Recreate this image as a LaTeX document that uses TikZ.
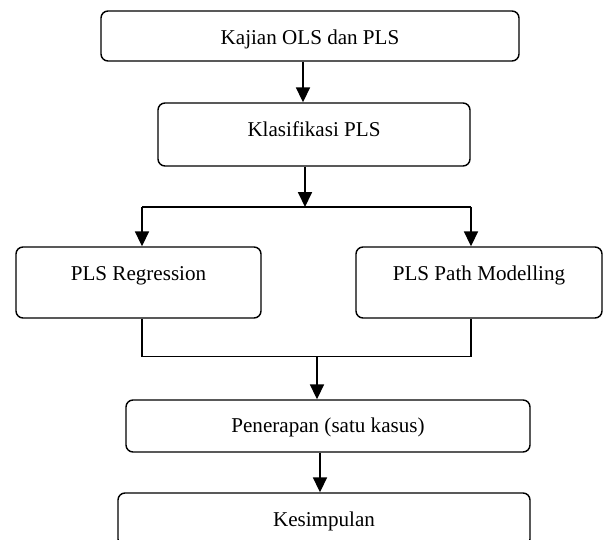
\documentclass[tikz,border=0pt]{standalone}
\usepackage{fontspec}
\setmainfont{Liberation Serif}
\usetikzlibrary{arrows.meta, positioning, calc}
\tikzset{
  >=Triangle,
  flowarrow/.style={-{Triangle[length=8.5pt, width=8pt]}, line width=0.8pt, black},
  flowline/.style={line width=0.8pt, black}
}
\begin{document}
\begin{tikzpicture}[
    stepbox/.style={rectangle, draw=black, line width=0.8pt, rounded corners=4pt, font=\fontsize{12}{14}\selectfont, align=center, inner sep=0pt, text height=0.68cm}
]
    \path[use as bounding box, clip] (0, 0) rectangle (12.06, -10.8);

    % Top boxes
    \node[stepbox, minimum width=8.36cm, text depth=0.32cm] (kajian) at (6.20, -0.72) {Kajian OLS dan PLS};
    \node[stepbox, minimum width=6.24cm, text depth=0.58cm] (klasifikasi) at (6.28, -2.69) {Klasifikasi PLS};

    % Two kinds of PLS
    \node[stepbox, minimum width=4.90cm, text depth=0.74cm] (regression) at (2.77, -5.65) {PLS Regression};
    \node[stepbox, minimum width=4.92cm, text depth=0.74cm] (pathmod) at (9.58, -5.65) {PLS Path Modelling};

    % Application and conclusion
    \node[stepbox, minimum width=8.08cm, text height=0.66cm, text depth=0.38cm] (penerapan) at (6.56, -8.52) {Penerapan (satu kasus)};
    \node[stepbox, minimum width=8.24cm, text height=0.66cm, text depth=0.40cm] (kesimpulan) at (6.48, -10.39) {Kesimpulan};

    % Branch and merge points
    \coordinate (split) at (6.10, -4.14);
    \coordinate (splitL) at (2.84, -4.14);
    \coordinate (splitR) at (9.42, -4.14);
    \coordinate (mergeL) at (2.84, -7.13);
    \coordinate (mergeR) at (9.42, -7.13);
    \coordinate (merge) at (6.34, -7.13);

    % Arrows
    \draw[flowarrow] ([xshift=-0.14cm]kajian.south) -- ([xshift=-0.14cm]kajian.south |- klasifikasi.north);
    \draw[flowarrow] (klasifikasi.south -| split) -- (split);
    \draw[flowline] (splitL) -- (splitR);
    \draw[flowarrow] (splitL) -- (splitL |- regression.north);
    \draw[flowarrow] (splitR) -- (splitR |- pathmod.north);

    \draw[flowline] (mergeL |- regression.south) -- (mergeL) -- (mergeR) -- (mergeR |- pathmod.south);
    \draw[flowarrow] (merge) -- (merge |- penerapan.north);
    \draw[flowarrow] ([xshift=-0.16cm]penerapan.south) -- ([xshift=-0.16cm]penerapan.south |- kesimpulan.north);
\end{tikzpicture}
\end{document}
